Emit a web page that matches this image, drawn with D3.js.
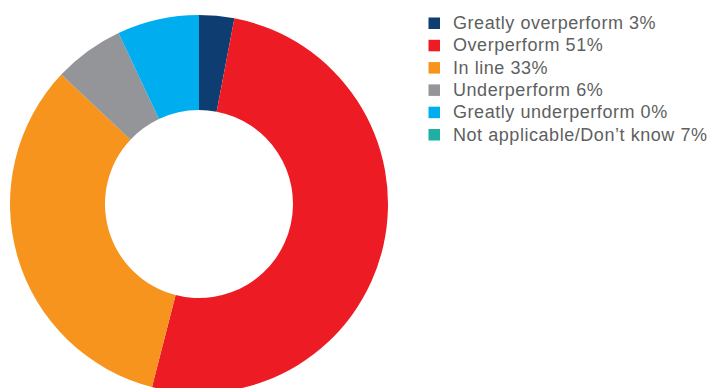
<!DOCTYPE html>
<html><head><meta charset="utf-8">
<script src="https://cdn.jsdelivr.net/npm/d3@7"></script>
<style>body{margin:0;background:#fff;}svg{display:block;}</style>
</head><body>
<svg id="chart" width="710" height="388"></svg>
<script>
const categories = ["Greatly overperform","Overperform","In line","Underperform","Greatly underperform","Not applicable/Don’t know"];
const values = [3, 51, 33, 6, 0, 7];
const legendColors = ["#0E3D72","#ED1C24","#F7941D","#939598","#00AEEF","#1FB0A2"];
const sliceColors = ["#0E3D72","#ED1C24","#F7941D","#939598","#00AEEF","#00AEEF"];

const svg = d3.select("#chart");
const cx = 199, cy = 204, outerR = 189, innerR = 94;

const pie = d3.pie().sort(null).value(d => d);
const arcs = pie(values);
const arc = d3.arc().innerRadius(innerR).outerRadius(outerR);

svg.append("g").attr("transform", `translate(${cx},${cy})`)
  .selectAll("path").data(arcs).join("path")
  .attr("d", arc)
  .attr("fill", (d, i) => sliceColors[i]);

const legend = svg.append("g").attr("transform", "translate(428.5,17.5)");
const rows = legend.selectAll("g").data(categories).join("g")
  .attr("transform", (d, i) => `translate(0,${i * 22.3})`);
rows.append("rect").attr("width", 11.5).attr("height", 11.5)
  .attr("fill", (d, i) => legendColors[i]);
rows.append("text").attr("x", 24.5).attr("y", 11.5)
  .attr("font-family", "Liberation Sans, Arial, sans-serif")
  .attr("font-size", 18).attr("letter-spacing", 0.55).attr("fill", "#5E5F61")
  .text((d, i) => `${d} ${values[i]}%`);
</script>
</body></html>
